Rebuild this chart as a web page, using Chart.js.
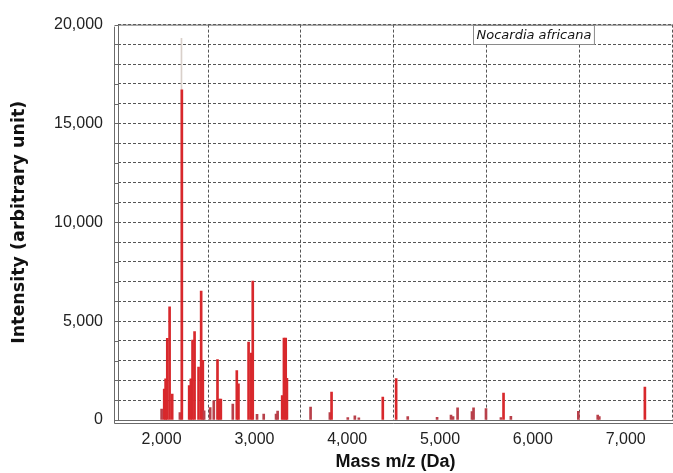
<!DOCTYPE html>
<html>
<head>
<meta charset="utf-8">
<script src="https://cdn.jsdelivr.net/npm/chart.js@4.4.0/dist/chart.umd.min.js"></script>
<style>
  html, body { margin: 0; padding: 0; background: #fff; }
  #wrap { width: 673px; height: 473px; position: relative; }
</style>
</head>
<body>
<div id="wrap"><canvas id="c" width="673" height="473"></canvas></div>
<script>
// Peak masses (m/z, Da) and intensities (arbitrary unit)
const peakMass = [2000, 2028, 2043, 2061, 2086, 2114, 2197, 2218, 2297, 2315, 2333, 2355,
  2398, 2426, 2444, 2458, 2523, 2562, 2602, 2620, 2638, 2767, 2810, 2828, 2937, 2965, 2982,
  3028, 3100, 3233, 3250, 3299, 3318, 3337, 3350, 3605, 3813, 3831, 4006, 4082, 4125, 4383,
  4527, 4652, 4968, 5118, 5140, 5189, 5344, 5361, 5495, 5656, 5684, 5763, 6490, 6699, 6716, 7207];
const peakIntensity = [550, 1570, 2080, 4130, 5720, 1310, 375, 16700, 1740, 2080, 4040, 4470,
  2680, 6520, 3020, 460, 630, 970, 3050, 1060, 1060, 800, 2500, 1830, 3940, 3380, 7030,
  290, 300, 300, 450, 1240, 4140, 4140, 2110, 650, 380, 1410, 120, 210, 110, 1160,
  2100, 170, 140, 250, 170, 610, 420, 610, 580, 120, 1360, 190, 440, 250, 170, 1660];
// Faint trace above the main peak
const ghostMass = [2214];
const ghostIntensity = [19300];

const xTickValues = [2000, 3000, 4000, 5000, 6000, 7000];
const yLabelValues = [0, 5000, 10000, 15000, 20000];
const xRange = [1530, 7510];
const yRange = [0, 20000];
const seriesLabel = 'Nocardia africana';
const xTitle = 'Mass m/z (Da)';
const yTitle = 'Intensity (arbitrary unit)';

const fmt = v => Number(v).toLocaleString('en-US');

const framePlugin = {
  id: 'frame',
  afterDatasetsDraw(chart) {
    const { ctx, chartArea: a } = chart;
    ctx.save();
    ctx.strokeStyle = '#6a6a6a';
    ctx.lineWidth = 1;
    ctx.beginPath();
    ctx.moveTo(chart.width, a.top + 0.5);
    ctx.lineTo(a.left + 0.5, a.top + 0.5);
    ctx.lineTo(a.left + 0.5, a.bottom + 0.5);
    ctx.lineTo(chart.width, a.bottom + 0.5);
    ctx.moveTo(a.left - 3.5, a.top + 2);
    ctx.lineTo(a.left - 3.5, a.bottom + 3.5);
    ctx.lineTo(chart.width, a.bottom + 3.5);
    ctx.stroke();
    const ys = chart.scales.y;
    ctx.beginPath();
    for (let v = yRange[0]; v <= yRange[1]; v += 1000) {
      const py = Math.round(ys.getPixelForValue(v)) + 0.5;
      ctx.moveTo(a.left - 3.5, py);
      ctx.lineTo(a.left, py);
    }
    ctx.stroke();
    ctx.restore();

    ctx.save();
    ctx.font = 'italic 13px "DejaVu Sans"';
    const tw = ctx.measureText(seriesLabel).width;
    const bx = 473.5, by = 25.5, bh = 19, bw = tw + 6;
    ctx.fillStyle = '#ffffff';
    ctx.fillRect(bx, by, bw, bh);
    ctx.strokeStyle = '#8a8a8a';
    ctx.strokeRect(bx, by, bw, bh);
    ctx.fillStyle = '#111';
    ctx.textBaseline = 'middle';
    ctx.fillText(seriesLabel, bx + 3, by + bh / 2 + 0.5);
    ctx.restore();
  }
};

const mainData = peakMass.map((m, i) => ({ x: m, y: peakIntensity[i] }));
const ghostData = ghostMass.map((m, i) => ({ x: m, y: ghostIntensity[i] }));

new Chart(document.getElementById('c'), {
  type: 'bar',
  data: {
    datasets: [
      {
        label: seriesLabel,
        data: mainData,
        backgroundColor: ctx => (ctx.raw && ctx.raw.y < 1000) ? '#b8404a' : '#d8282c',
        barThickness: 2,
        grouped: false,
        order: 1
      },
      {
        label: 'trace',
        data: ghostData,
        backgroundColor: '#d9d0ca',
        barThickness: 1,
        grouped: false,
        order: 2
      }
    ]
  },
  options: {
    responsive: false,
    animation: false,
    devicePixelRatio: 1,
    layout: { padding: { top: 19, right: 0, left: 0, bottom: 0 } },
    plugins: { legend: { display: false }, tooltip: { enabled: false } },
    scales: {
      x: {
        type: 'linear',
        min: xRange[0],
        max: xRange[1],
        offset: false,
        afterBuildTicks: s => { s.ticks = xTickValues.map(v => ({ value: v })); },
        afterFit: s => { s.height = 53; },
        border: { display: false, dash: [3, 2] },
        grid: { color: '#555', lineWidth: 1, drawTicks: false },
        ticks: {
          padding: 10,
          color: '#222',
          font: { family: '"Liberation Sans", Arial, sans-serif', size: 16 },
          callback: v => fmt(v),
          maxRotation: 0,
          autoSkip: false
        },
        title: {
          display: true,
          text: xTitle,
          color: '#111',
          font: { family: '"Liberation Sans", Arial, sans-serif', size: 18, weight: 'bold' },
          padding: { top: 0, bottom: 0 }
        }
      },
      y: {
        min: yRange[0],
        max: yRange[1],
        afterBuildTicks: s => {
          const t = [];
          for (let v = yRange[0]; v <= yRange[1]; v += 1000) t.push({ value: v });
          s.ticks = t;
        },
        afterFit: s => { s.width = 118; },
        border: { display: false, dash: [3, 2] },
        grid: { color: '#555', lineWidth: 1, drawTicks: false },
        ticks: {
          padding: 15,
          color: '#222',
          font: { family: '"Liberation Sans", Arial, sans-serif', size: 16 },
          callback: v => yLabelValues.includes(v) ? fmt(v) : '',
          autoSkip: false
        },
        title: {
          display: true,
          text: yTitle,
          color: '#111',
          font: { family: '"DejaVu Sans", Verdana, sans-serif', size: 17.5, weight: 'bold' },
          padding: { top: 9, bottom: 0 }
        }
      }
    }
  },
  plugins: [framePlugin]
});
</script>
</body>
</html>
